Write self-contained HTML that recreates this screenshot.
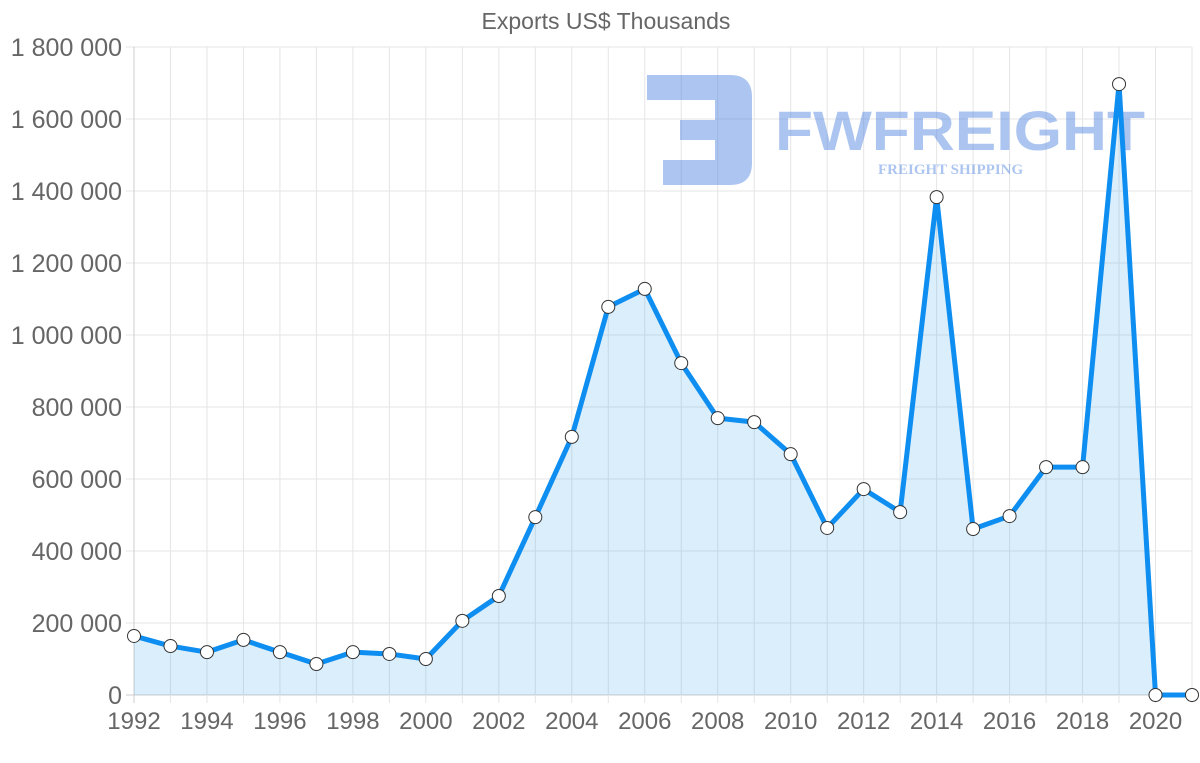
<!DOCTYPE html>
<html><head><meta charset="utf-8"><style>
html,body{margin:0;padding:0;background:#fff;width:1200px;height:763px;overflow:hidden}
svg{display:block;font-family:"Liberation Sans",sans-serif}
</style></head><body>
<svg id="chart" width="1200" height="763">
<text x="606" y="29" text-anchor="middle" font-size="23" fill="#666">Exports US$ Thousands</text>
<g id="grid"></g>
<g opacity="0.45">
<path d="M647 75 H730 Q752 75 752 97 V163 Q752 185 730 185 H663 V160 H715 V140 H680 V120 H715 V100 H647 Z" fill="#4a7fe0"/>
<text x="775" y="150" font-size="56" font-weight="bold" fill="#4a7fe0" textLength="370" lengthAdjust="spacingAndGlyphs">FWFREIGHT</text>
<text x="878" y="174" font-size="15" font-weight="bold" font-family="Liberation Serif,serif" fill="#4a7fe0">FREIGHT SHIPPING</text>
</g>
<g id="series"></g>
<g id="axes"></g>
</svg>
<script>
const years=[1992,1993,1994,1995,1996,1997,1998,1999,2000,2001,2002,2003,2004,2005,2006,2007,2008,2009,2010,2011,2012,2013,2014,2015,2016,2017,2018,2019,2020,2021];
const exportsVals=[164000,136000,119000,153000,119000,86000,119000,114000,100000,206000,275000,494000,717000,1078000,1128000,922000,769000,758000,669000,464000,572000,508000,1383000,461000,497000,633000,633000,1697000,0,0];
const yTicks=[0,200000,400000,600000,800000,1000000,1200000,1400000,1600000,1800000];
const yTickLabels=["0","200 000","400 000","600 000","800 000","1 000 000","1 200 000","1 400 000","1 600 000","1 800 000"];
const xTickLabels=["1992","1994","1996","1998","2000","2002","2004","2006","2008","2010","2012","2014","2016","2018","2020"];
const NS="http://www.w3.org/2000/svg";
const X0=134,X1=1192,Y0=695,Y1=47;
const x=yr=>X0+(yr-1992)*(X1-X0)/29;
const y=v=>Y0-v*(Y0-Y1)/1800000;
function mk(tag,attrs,parent){const e=document.createElementNS(NS,tag);for(const k in attrs)e.setAttribute(k,attrs[k]);parent.appendChild(e);return e;}
const grid=document.getElementById('grid'),axes=document.getElementById('axes'),series=document.getElementById('series');
yTicks.forEach((t,i)=>{
 const l=mk('line',{x1:X0-8,x2:X1,y1:y(t),y2:y(t),stroke:i==0?'#ccc':'#e5e5e5','stroke-width':1},grid);
 
 
 const tx=mk('text',{x:122,y:y(t)+9,'text-anchor':'end','font-size':25,fill:'#666'},axes);
 tx.textContent=yTickLabels[i];
 
 
});
years.forEach(yr=>{
 const l=mk('line',{x1:x(yr),x2:x(yr),y1:Y1,y2:Y0+8,stroke:yr==1992?'#ccc':'#e5e5e5','stroke-width':1},grid);
 
 
});
xTickLabels.forEach(s=>{
 const tx=mk('text',{x:x(+s),y:729,'text-anchor':'middle','font-size':24,fill:'#666'},axes);
 tx.textContent=s;
 
 
});
let d=years.map((yr,i)=>(i?'L':'M')+x(yr)+' '+y(exportsVals[i])).join(' ');
const area=mk('path',{d:d+` L${x(2021)} ${Y0} L${x(1992)} ${Y0} Z`,fill:'rgba(54,162,235,0.18)'},series);


const line=mk('path',{d:d,fill:'none',stroke:'#0d8ef0','stroke-width':5,'stroke-linejoin':'round'},series);


years.forEach((yr,i)=>{
 const c=mk('circle',{cx:x(yr),cy:y(exportsVals[i]),r:6.5,fill:'#fff',stroke:'#333','stroke-width':1},series);
 
 
});
</script>
</body></html>
